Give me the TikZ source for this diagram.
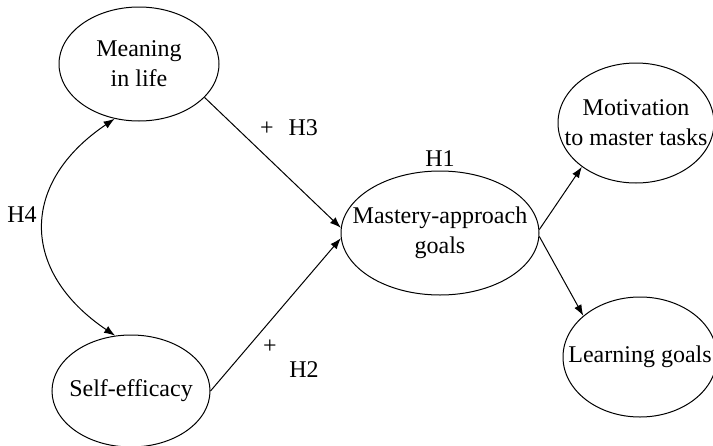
\documentclass[tikz,border=0pt]{standalone}
\usepackage{fontspec}
\setmainfont{Liberation Serif}
\usetikzlibrary{arrows.meta,positioning,shapes.geometric}

\begin{document}
\begin{tikzpicture}[->, >={Latex[length=11pt,width=8pt]}, line width=1pt, x=1pt, y=-1pt, font=\fontsize{24}{30}\selectfont]
	\tikzstyle{var}=[ellipse,draw=black,inner xsep=-40pt,inner ysep=-10pt,align=center]
	\tikzstyle{lab}=[inner sep=0pt]
	\useasboundingbox (0,0) rectangle (713,445);
	\node[var,minimum width=160pt,minimum height=114pt] (M) at (139,64)  {Meaning\\in life};
	\node[var,minimum width=158pt,minimum height=112pt] (S) at (131,391) {Self-efficacy};
	\node[var,minimum width=198pt,minimum height=124pt] (G) at (440,233) {Mastery-approach\\goals};
	\node[var,minimum width=156pt,minimum height=120pt] (T) at (636,123) {Motivation\\to master tasks};
	\node[var,minimum width=154pt,minimum height=120pt] (L) at (640,357) {Learning goals};
	\node[lab]              (H3) at (289,128) {+\hspace{15pt}H3};
	\node[lab]              (P2) at (270,347) {+};
	\node[lab]              (H2) at (304,370) {H2};
	\node[lab]              (H4) at (22,215)  {H4};
	\node[lab,above=4pt of G] (H1)            {H1};
	\path
	(M.-27)  edge                                          (G.177)
	(S.east) edge                                          (G.183)
	(M.246)  edge[<->, out=214, in=146, looseness=1.35]    (S.106)
	(G.2)    edge                                          (T.219)
	(G.-2)   edge                                          (L.144);
\end{tikzpicture}
\end{document}
